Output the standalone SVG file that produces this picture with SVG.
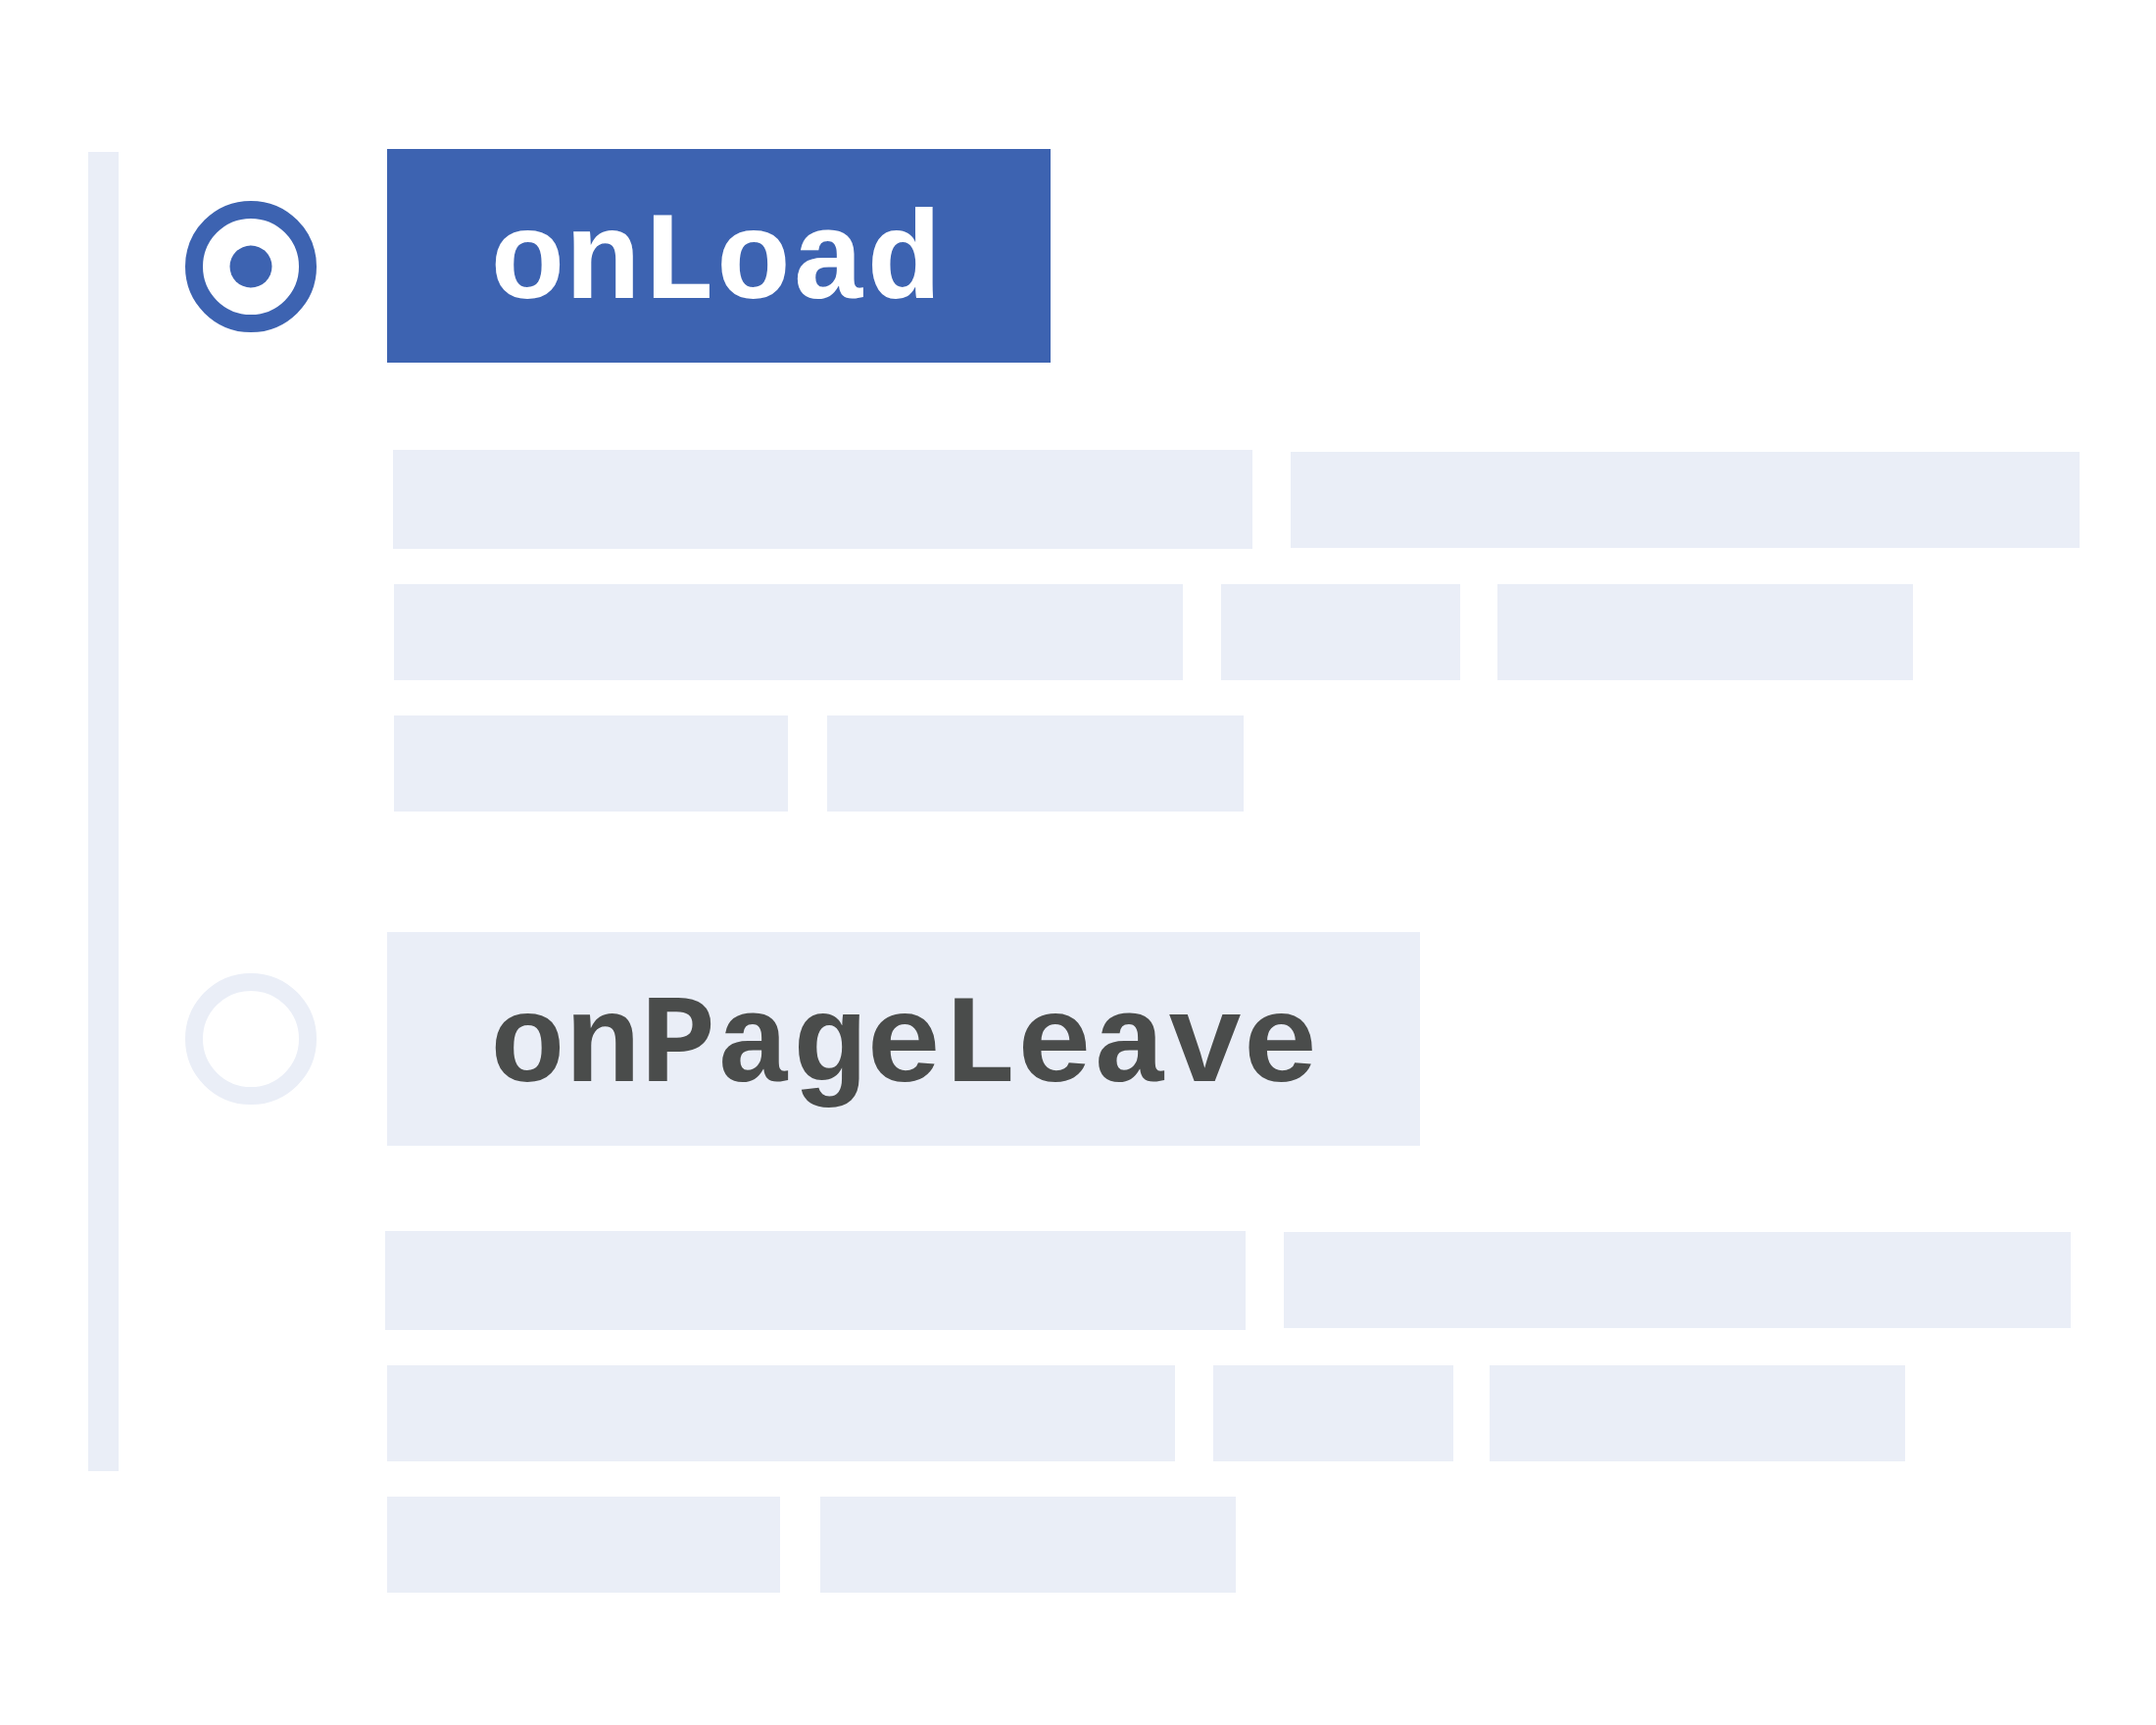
<svg xmlns="http://www.w3.org/2000/svg" width="2200" height="1760" viewBox="0 0 2200 1760">
<style>
.ph{fill:#eaeef7}
.lbl{font-family:"Courier New","Nimbus Mono PS","FreeMono",Courier,"Liberation Mono",monospace;font-weight:bold;font-size:128px}
</style>
<rect x="0" y="0" width="2200" height="1760" fill="#ffffff"/>
<rect id="timeline" x="90" y="155" width="31" height="1346" class="ph"/>
<g id="step-onLoad">
<circle cx="256" cy="272" r="58" fill="#ffffff" stroke="#3d63b1" stroke-width="18"/>
<circle cx="256" cy="272" r="21.5" fill="#3d63b1"/>
<rect x="395" y="152" width="677" height="218" fill="#3d63b1"/>
<text x="500" y="304" class="lbl" fill="#ffffff">onLoad</text>
</g>
<g id="content-onLoad">
<rect class="ph" x="401" y="459" width="877" height="101"/>
<rect class="ph" x="1317" y="461" width="805" height="98"/>
<rect class="ph" x="402" y="596" width="805" height="98"/>
<rect class="ph" x="1246" y="596" width="244" height="98"/>
<rect class="ph" x="1528" y="596" width="424" height="98"/>
<rect class="ph" x="402" y="730" width="402" height="98"/>
<rect class="ph" x="844" y="730" width="425" height="98"/>
</g>
<g id="step-onPageLeave">
<circle cx="256" cy="1060" r="58" fill="#ffffff" stroke="#eaeef7" stroke-width="18"/>
<rect x="395" y="951" width="1054" height="218" class="ph"/>
<text x="500" y="1103" class="lbl" fill="#4a4c4b">onPageLeave</text>
</g>
<g id="content-onPageLeave">
<rect class="ph" x="393" y="1256" width="878" height="101"/>
<rect class="ph" x="1310" y="1257" width="803" height="98"/>
<rect class="ph" x="395" y="1393" width="804" height="98"/>
<rect class="ph" x="1238" y="1393" width="245" height="98"/>
<rect class="ph" x="1520" y="1393" width="424" height="98"/>
<rect class="ph" x="395" y="1527" width="401" height="98"/>
<rect class="ph" x="837" y="1527" width="424" height="98"/>
</g>
<g id="connectors"></g>
</svg>
